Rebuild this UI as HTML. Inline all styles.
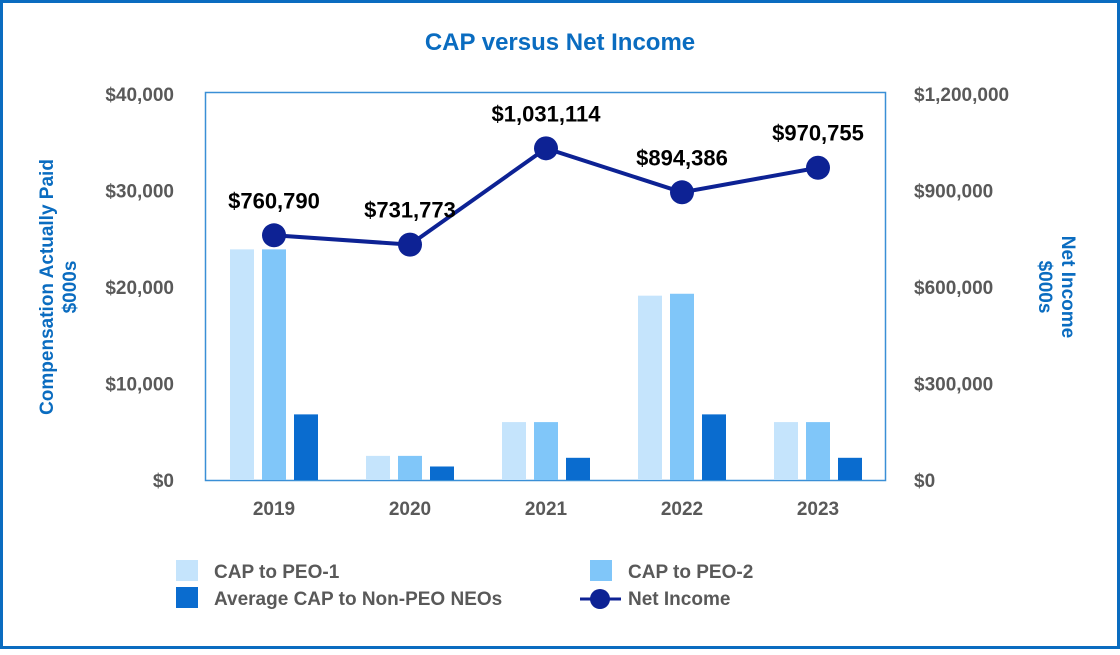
<!DOCTYPE html>
<html><head><meta charset="utf-8"><style>
body{margin:0;width:1120px;height:650px;background:#fff;font-family:"Liberation Sans",Arial,sans-serif;overflow:hidden}
</style></head><body>
<svg id="c" width="1120" height="650" xmlns="http://www.w3.org/2000/svg" font-family="Liberation Sans, Arial, sans-serif">
<rect x="1.5" y="1.5" width="1117" height="646" fill="#fff" stroke="#0a6cc0" stroke-width="3"/>
<text x="560" y="50" text-anchor="middle" font-size="24" font-weight="bold" fill="#0a6cc0">CAP versus Net Income</text>
<rect x="205.5" y="92.5" width="680" height="388" fill="none" stroke="#3a8fd6" stroke-width="1.5"/>
<text transform="translate(57,287) rotate(-90)" text-anchor="middle" font-size="19" font-weight="bold" fill="#0a6cc0"><tspan x="0" dy="-4">Compensation Actually Paid</tspan><tspan x="0" dy="23">$000s</tspan></text>
<text transform="translate(1058,287) rotate(90)" text-anchor="middle" font-size="19" font-weight="bold" fill="#0a6cc0"><tspan x="0" dy="-4">Net Income</tspan><tspan x="0" dy="23">$000s</tspan></text>
<g id="g"></g>
<g font-size="19" font-weight="bold" fill="#595959">
<rect x="176" y="560" width="22" height="21" fill="#c5e4fc"/>
<text x="214" y="578">CAP to PEO-1</text>
<rect x="590" y="560" width="22" height="21" fill="#80c6f9"/>
<text x="628" y="578">CAP to PEO-2</text>
<rect x="176" y="587" width="22" height="21" fill="#0a6ccf"/>
<text x="214" y="605">Average CAP to Non-PEO NEOs</text>
<line x1="580" y1="599" x2="621" y2="599" stroke="#0d2294" stroke-width="3"/>
<circle cx="600" cy="599" r="10" fill="#0d2294"/>
<text x="628" y="605">Net Income</text>
</g>
</svg>
<script>
const categories=["2019","2020","2021","2022","2023"];
const peo1=[23900,2500,6000,19100,6000];
const peo2=[23900,2500,6000,19300,6000];
const nonPeo=[6800,1400,2300,6800,2300];
const netIncome=[760790,731773,1031114,894386,970755];
const netLabels=["$760,790","$731,773","$1,031,114","$894,386","$970,755"];
const leftTicks=[0,10000,20000,30000,40000];
const rightTicks=[0,300000,600000,900000,1200000];
const ns="http://www.w3.org/2000/svg";
const g=document.getElementById('g');
const yTop=94,yBot=480,x0=206,x1=886;
const yL=v=>yBot-(v/40000)*(yBot-yTop);
const yR=v=>yBot-(v/1200000)*(yBot-yTop);
const xC=i=>x0+(i+0.5)*(x1-x0)/categories.length;
function mk(t,a){const e=document.createElementNS(ns,t);for(const k in a)e.setAttribute(k,a[k]);g.appendChild(e);return e;}
const fmt=v=>'$'+v.toLocaleString('en-US');
leftTicks.forEach(v=>{const t=mk('text',{x:174,y:yL(v)+7,'text-anchor':'end','font-size':19,'font-weight':'bold',fill:'#595959'});t.textContent=fmt(v);

});
rightTicks.forEach(v=>{const t=mk('text',{x:914,y:yR(v)+7,'font-size':19,'font-weight':'bold',fill:'#595959'});t.textContent=fmt(v);

});
const series=[[peo1,'#c5e4fc',-32],[peo2,'#80c6f9',0],[nonPeo,'#0a6ccf',32]];
categories.forEach((c,i)=>{
 const t=mk('text',{x:xC(i),y:515,'text-anchor':'middle','font-size':19,'font-weight':'bold',fill:'#595959'});t.textContent=c;
 
 
 series.forEach(([arr,col,off],s)=>{
  const r=mk('rect',{x:xC(i)+off-12,y:yL(arr[i]),width:24,height:yBot-yL(arr[i]),fill:col});
  
  
 });
});
const pts=netIncome.map((v,i)=>xC(i)+','+yR(v)).join(' ');
const pl=mk('polyline',{points:pts,fill:'none',stroke:'#0d2294','stroke-width':4});


netIncome.forEach((v,i)=>{
 const p=mk('circle',{cx:xC(i),cy:yR(v),r:12,fill:'#0d2294'});
 
 
 const t=mk('text',{x:xC(i),y:yR(v)-27,'text-anchor':'middle','font-size':22,'font-weight':'bold',fill:'#000'});t.textContent=netLabels[i];
 
 
});
</script>
</body></html>
